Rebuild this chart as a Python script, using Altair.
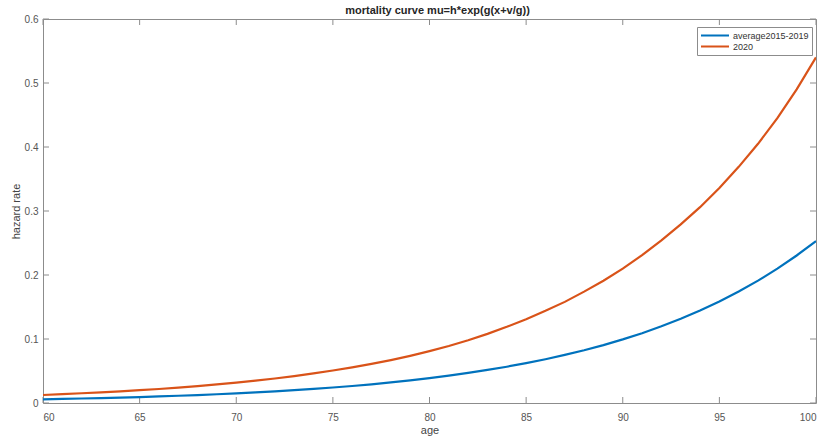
import altair as alt
import pandas as pd

# ---- data ----
ages = list(range(60, 101))
avg_2015_2019 = [0.0058, 0.0064, 0.0070, 0.0077, 0.0085, 0.0093, 0.0103, 0.0113, 0.0124, 0.0137,
                 0.0150, 0.0165, 0.0182, 0.0200, 0.0220, 0.0242, 0.0266, 0.0292, 0.0321, 0.0354,
                 0.0389, 0.0428, 0.0470, 0.0517, 0.0567, 0.0623, 0.0684, 0.0751, 0.0824, 0.0905,
                 0.0994, 0.1091, 0.1198, 0.1315, 0.1444, 0.1586, 0.1741, 0.1912, 0.2099, 0.2305,
                 0.2530]
rate_2020 = [0.0125, 0.0138, 0.0152, 0.0166, 0.0182, 0.0200, 0.0219, 0.0240, 0.0264, 0.0290,
             0.0318, 0.0349, 0.0383, 0.0420, 0.0462, 0.0508, 0.0557, 0.0611, 0.0671, 0.0737,
             0.0810, 0.0890, 0.0980, 0.1080, 0.1190, 0.1310, 0.1440, 0.1580, 0.1740, 0.1910,
             0.2100, 0.2310, 0.2540, 0.2790, 0.3060, 0.3360, 0.3690, 0.4050, 0.4450, 0.4900,
             0.5400]
series_names = ["average2015-2019", "2020"]
series_colors = ["#0072BD", "#D95319"]
x_ticks = [60, 65, 70, 75, 80, 85, 90, 95, 100]
y_ticks = [0, 0.1, 0.2, 0.3, 0.4, 0.5, 0.6]

W, H = 773, 384
TICK = 6
GRAY = "#8c8c8c"
FONT = "Liberation Sans"

df = pd.DataFrame({
    "age": ages * 2,
    "rate": avg_2015_2019 + rate_2020,
    "series": [series_names[0]] * len(ages) + [series_names[1]] * len(ages),
})
xt = pd.DataFrame({"age": x_ticks})
yt = pd.DataFrame({"rate": y_ticks})

xscale = alt.Scale(domain=[60, 100], nice=False, zero=False)
yscale = alt.Scale(domain=[0, 0.6], nice=False, zero=False)

lines = alt.Chart(df).mark_line(strokeWidth=2.2, clip=True).encode(
    x=alt.X("age:Q", scale=xscale,
            axis=alt.Axis(values=x_ticks, ticks=False, grid=False, domain=False,
                          title="age", labelPadding=9, titlePadding=2)),
    y=alt.Y("rate:Q", scale=yscale,
            axis=alt.Axis(values=y_ticks, ticks=False, grid=False, domain=False, format="~g",
                          title="hazard rate", labelPadding=5, titlePadding=3)),
    color=alt.Color("series:N",
                    scale=alt.Scale(domain=series_names, range=series_colors),
                    sort=series_names,
                    legend=alt.Legend(orient="none", legendX=654, legendY=8, title=None,
                                      direction="vertical", symbolType="stroke",
                                      symbolSize=784, symbolStrokeWidth=2,
                                      labelFontSize=9, labelColor="#333333", labelFont=FONT,
                                      labelOffset=3, fillColor="white", strokeColor=GRAY,
                                      padding=3, rowPadding=0, clipHeight=11)),
)

bottom_ticks = alt.Chart(xt).mark_rule(color=GRAY, strokeWidth=1).encode(
    x=alt.X("age:Q", scale=xscale), y=alt.value(H), y2=alt.value(H - TICK))
top_ticks = alt.Chart(xt).mark_rule(color=GRAY, strokeWidth=1).encode(
    x=alt.X("age:Q", scale=xscale), y=alt.value(0), y2=alt.value(TICK))
left_ticks = alt.Chart(yt).mark_rule(color=GRAY, strokeWidth=1).encode(
    y=alt.Y("rate:Q", scale=yscale), x=alt.value(0), x2=alt.value(TICK))
right_ticks = alt.Chart(yt).mark_rule(color=GRAY, strokeWidth=1).encode(
    y=alt.Y("rate:Q", scale=yscale), x=alt.value(W), x2=alt.value(W - TICK))

chart = alt.layer(bottom_ticks, top_ticks, left_ticks, right_ticks, lines).properties(
    width=W, height=H,
    autosize=alt.AutoSizeParams(type="none"),
    padding={"left": 43, "top": 19, "right": 4, "bottom": 36},
    title=alt.TitleParams("mortality curve mu=h*exp(g(x+v/g))", anchor="middle",
                          fontSize=11, fontWeight="bold", color="#262626", font=FONT,
                          offset=4, dx=8, dy=6),
    background="white",
).configure_view(
    stroke=GRAY, strokeWidth=1,
).configure_axis(
    labelFont=FONT, labelFontSize=10, labelColor="#555555",
    titleFont=FONT, titleFontSize=11, titleColor="#444444", titleFontWeight="normal",
)

chart.save("out.html", embed_options={"renderer": "svg", "actions": False})
